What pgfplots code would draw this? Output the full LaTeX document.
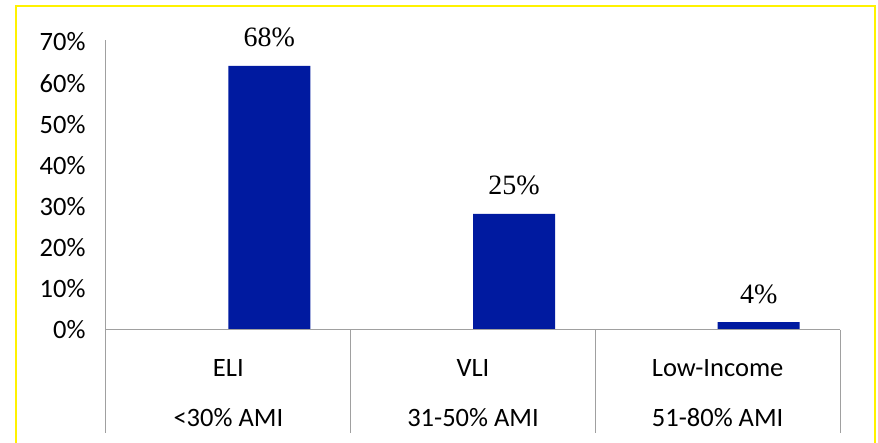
\documentclass[border=0pt]{standalone}
\usepackage{pgfplots}
\pgfplotsset{compat=1.18}
\usepackage{fontspec}
\setmainfont{Carlito}
\newfontfamily\labelfont{Liberation Serif}
\definecolor{barblue}{RGB}{0,26,160}
\definecolor{axgray}{RGB}{160,160,160}
\begin{document}
\begin{tikzpicture}[x=1pt,y=1pt]
\useasboundingbox (0,0) rectangle (878,443);
\clip (0,0) rectangle (878,443);
\fill[white] (0,0) rectangle (878,443);
\draw[yellow, line width=2pt] (16,-10) -- (16,437) -- (875,437) -- (875,-10);
\begin{axis}[
  at={(106pt,113pt)}, anchor=south west,
  scale only axis, width=734pt, height=288pt,
  xmin=-0.5, xmax=2.5, ymin=0, ymax=70,
  axis line style={draw=none},
  ytick={0,10,...,70},
  yticklabels={0\%,10\%,20\%,30\%,40\%,50\%,60\%,70\%},
  xtick={0,1,2},
  xticklabels={{ELI\\<30\% AMI},{VLI\\31-50\% AMI},{Low-Income\\51-80\% AMI}},
  major tick length=0pt,
  tick label style={font=\fontsize{26.5}{50}\selectfont},
  xticklabel style={align=center, yshift=-26pt},
  yticklabel style={xshift=-17pt},
  ybar, bar width=82pt, bar shift=41pt,
  nodes near coords, point meta=explicit symbolic,
  every node near coord/.append style={font=\labelfont\fontsize{28}{34}\selectfont, anchor=base, yshift=19pt},
  clip=false,
]
\addplot[fill=barblue, draw=none] coordinates {(0,64.2)[68\%] (1,28.2)[25\%] (2,1.9)[4\%]};
\draw[axgray, line width=1pt] (axis cs:-0.5,0) -- (axis cs:2.5,0);
\draw[axgray, line width=1pt] (axis cs:-0.5,0) -- (axis cs:-0.5,70.5);
\pgfplotsinvokeforeach{-0.5,0.5,1.5,2.5}{\draw[axgray, line width=1pt] (axis cs:#1,0) -- ([yshift=-103pt]axis cs:#1,0);}
\end{axis}
\end{tikzpicture}
\end{document}
